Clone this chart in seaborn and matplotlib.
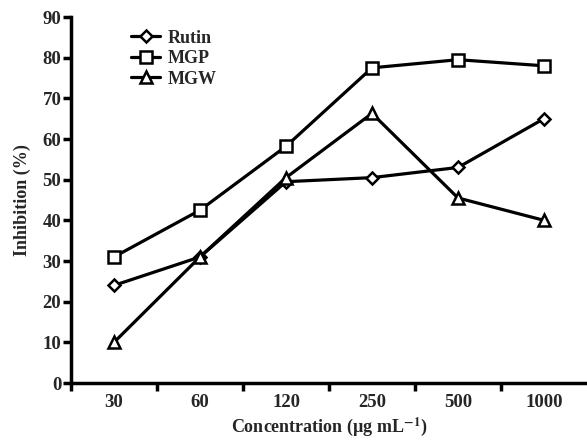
import numpy as np
import pandas as pd
import matplotlib
matplotlib.use("Agg")
import matplotlib.pyplot as plt
import seaborn as sns

concentrations = ["30", "60", "120", "250", "500", "1000"]
rutin = [24.0, 31.0, 49.5, 50.5, 53.0, 65.0]
mgp = [31.0, 42.5, 58.2, 77.5, 79.5, 78.0]
mgw = [10.0, 31.0, 50.5, 66.3, 45.5, 40.0]
series_names = ["Rutin", "MGP", "MGW"]

sns.set_theme(style="white")
plt.rcParams['font.family'] = ['Liberation Serif', 'DejaVu Serif']
plt.rcParams['font.weight'] = 'bold'
plt.rcParams['mathtext.fontset'] = 'stix'

fig = plt.figure(figsize=(5.87, 4.41), dpi=100)
ax = fig.add_axes([71/587, 1 - 383/441, 1 - 71/587, (383 - 17)/441])

idx = np.arange(len(concentrations))
markers = ["D", "s", "^"]
msizes = [6, 8, 8]
for name, vals, m, ms in zip(series_names, [rutin, mgp, mgw], markers, msizes):
    df = pd.DataFrame({"x": idx, "y": vals})
    sns.lineplot(data=df, x="x", y="y", ax=ax, color="black", linewidth=2.3,
                 marker=m, markersize=ms, markerfacecolor="white",
                 markeredgecolor="black", markeredgewidth=1.8, label=name)

ax.set_xlim(-0.5, 5.5)
ax.set_ylim(0, 90)
ax.set_yticks(np.arange(0, 91, 10))
ax.set_xticks(idx)
ax.set_xticklabels(concentrations)
ax.set_xticks(np.arange(-0.5, 5.0, 1.0), minor=True)
ax.tick_params(axis="x", which="major", length=0, pad=8, labelsize=13.5)
ax.tick_params(axis="x", which="minor", length=6, width=2.5, direction="out", color="black", bottom=True)
ax.tick_params(axis="y", length=6, width=2.5, direction="out", color="black", left=True, labelsize=13.5, pad=1)
for s in ["top", "right"]:
    ax.spines[s].set_visible(False)
for s in ["left", "bottom"]:
    ax.spines[s].set_color("black")
    ax.spines[s].set_linewidth(2.5)

ax.set_xlabel(r"Concentration (µg mL$^{\mathbf{-1}}$)", fontsize=13, fontweight="bold", labelpad=3)
ax.set_ylabel("Inhibition (%)", fontsize=13, fontweight="bold", labelpad=8)

leg = ax.legend(loc="upper left", bbox_to_anchor=(0.085, 1.01), frameon=False,
                fontsize=13, handlelength=1.6, handletextpad=0.4, labelspacing=0.2)
for t in leg.get_texts():
    t.set_fontweight("bold")

fig.savefig("out.png", dpi=100)
